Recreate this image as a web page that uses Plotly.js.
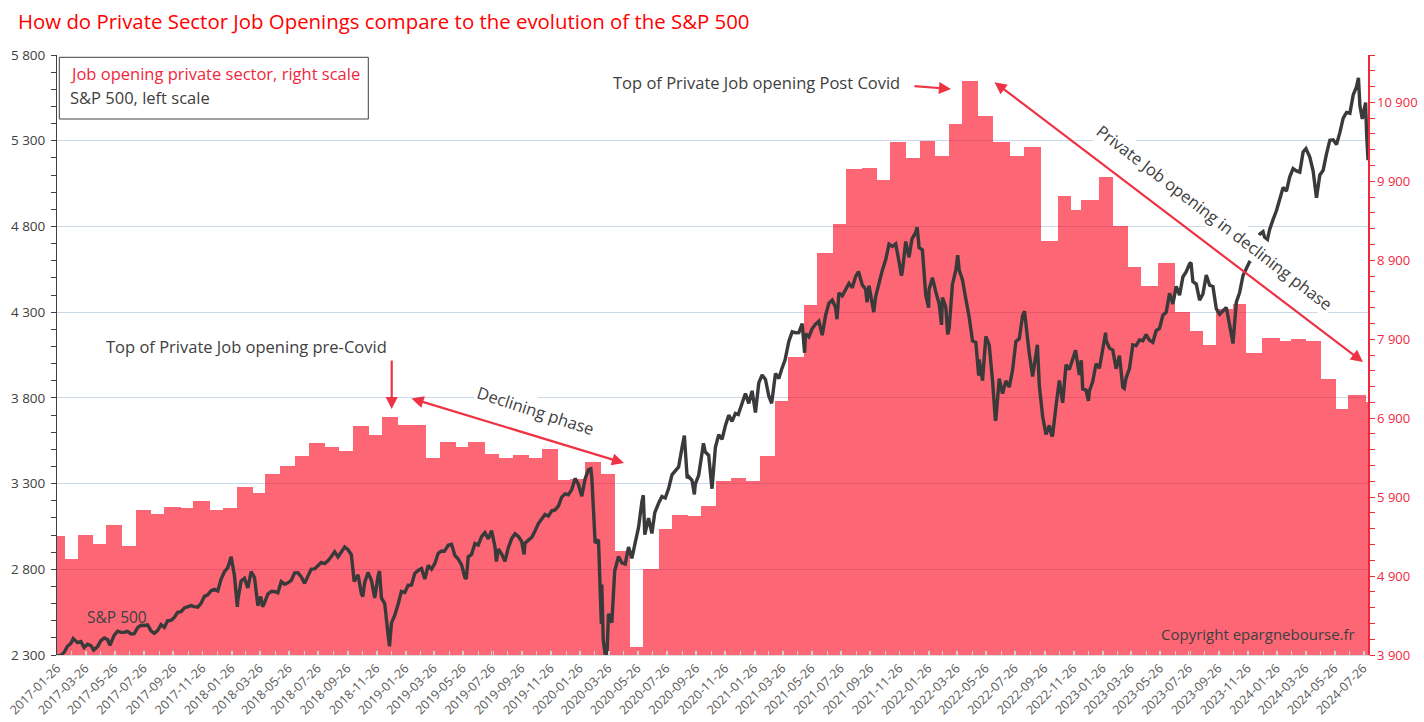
<!DOCTYPE html>
<html>
<head>
<meta charset="utf-8">
<script src="https://cdn.plot.ly/plotly-3.0.1.min.js"></script>
<style>html,body{margin:0;padding:0;background:#fff;}#chart{width:1424px;height:722px;}</style>
</head>
<body>
<div id="chart"></div>
<script>
// ---------- DATA ----------
// Private sector job openings (thousands, right scale), value in force from each date
const jobDates = [
 '2017-01-26','2017-02-12','2017-03-11','2017-04-11','2017-05-09','2017-06-11','2017-07-10','2017-08-10','2017-09-07','2017-10-12','2017-11-08','2017-12-13',
 '2018-01-08','2018-02-08','2018-03-12','2018-04-07','2018-05-09','2018-06-09','2018-07-09','2018-08-11','2018-09-10','2018-10-09','2018-11-10','2018-12-08',
 '2019-01-10','2019-02-12','2019-03-11','2019-04-08','2019-05-13','2019-06-07','2019-07-13','2019-08-11','2019-09-08','2019-10-13','2019-11-08','2019-12-12',
 '2020-01-07','2020-02-07','2020-03-11','2020-04-10','2020-05-12','2020-06-08','2020-07-10','2020-08-08','2020-09-09','2020-10-07','2020-11-07','2020-12-09',
 '2021-01-09','2021-02-08','2021-03-10','2021-04-08','2021-05-10','2021-06-08','2021-07-10','2021-08-07','2021-09-09','2021-10-11','2021-11-08','2021-12-11',
 '2022-01-08','2022-02-10','2022-03-10','2022-04-08','2022-05-11','2022-06-11','2022-07-17','2022-08-14','2022-09-20','2022-10-25','2022-11-22','2022-12-13',
 '2023-01-19','2023-02-18','2023-03-21','2023-04-17','2023-05-22','2023-06-28','2023-07-28','2023-08-25','2023-09-22','2023-10-27','2023-11-24','2023-12-26',
 '2024-02-02','2024-02-26','2024-03-29','2024-04-29','2024-05-30','2024-06-24','2024-07-31'
];
const jobValues = [
 5410,5120,5420,5310,5550,5280,5740,5690,5780,5760,5850,5740,
 5760,6030,5950,6190,6290,6420,6580,6540,6480,6800,6690,6910,
 6810,6810,6390,6600,6540,6600,6450,6400,6430,6390,6510,6120,
 6130,6340,6190,5220,4000,4990,5500,5670,5660,5790,6100,6140,
 6100,6420,7120,7670,8330,8990,9360,10050,10070,9920,10400,10200,
 10410,10220,10620,11170,10730,10400,10220,10340,9140,9720,9540,9660,
 9950,9340,8820,8570,8860,8240,8010,7830,8280,8340,7730,7920,
 7880,7900,7880,7400,7020,7190,7100
];

// S&P 500 (left scale)
const spDates = [
 '2017-01-26','2017-02-03','2017-02-10','2017-02-17','2017-02-24','2017-03-01','2017-03-10','2017-03-17','2017-03-24','2017-03-31','2017-04-07','2017-04-13','2017-04-21','2017-04-28',
 '2017-05-05','2017-05-12','2017-05-17','2017-05-26','2017-06-02','2017-06-09','2017-06-16','2017-06-23','2017-06-30','2017-07-07','2017-07-14','2017-07-21','2017-07-28',
 '2017-08-04','2017-08-11','2017-08-18','2017-08-25','2017-09-01','2017-09-08','2017-09-15','2017-09-22','2017-09-29','2017-10-06','2017-10-13','2017-10-20','2017-10-27',
 '2017-11-03','2017-11-10','2017-11-17','2017-11-24','2017-12-01','2017-12-08','2017-12-15','2017-12-22','2017-12-29',
 '2018-01-05','2018-01-12','2018-01-19','2018-01-26','2018-02-02','2018-02-08','2018-02-09','2018-02-16','2018-02-23','2018-03-02','2018-03-09','2018-03-16','2018-03-23','2018-03-29',
 '2018-04-02','2018-04-06','2018-04-13','2018-04-20','2018-04-27','2018-05-04','2018-05-11','2018-05-18','2018-05-25','2018-06-01','2018-06-08','2018-06-15','2018-06-22','2018-06-29',
 '2018-07-06','2018-07-13','2018-07-20','2018-07-27','2018-08-03','2018-08-10','2018-08-17','2018-08-24','2018-08-31','2018-09-07','2018-09-14','2018-09-21','2018-09-28',
 '2018-10-05','2018-10-11','2018-10-19','2018-10-26','2018-10-29','2018-11-02','2018-11-09','2018-11-16','2018-11-23','2018-11-30','2018-12-03','2018-12-07','2018-12-14','2018-12-21','2018-12-24','2018-12-28',
 '2019-01-04','2019-01-11','2019-01-18','2019-01-25','2019-02-01','2019-02-08','2019-02-15','2019-02-22','2019-03-01','2019-03-08','2019-03-15','2019-03-22','2019-03-29',
 '2019-04-05','2019-04-12','2019-04-18','2019-04-26','2019-05-03','2019-05-10','2019-05-17','2019-05-24','2019-05-31','2019-06-03','2019-06-07','2019-06-14','2019-06-21','2019-06-28',
 '2019-07-05','2019-07-12','2019-07-19','2019-07-26','2019-08-02','2019-08-05','2019-08-09','2019-08-16','2019-08-23','2019-08-30','2019-09-06','2019-09-13','2019-09-20','2019-09-27',
 '2019-10-02','2019-10-04','2019-10-11','2019-10-18','2019-10-25','2019-11-01','2019-11-08','2019-11-15','2019-11-22','2019-11-29','2019-12-06','2019-12-13','2019-12-20','2019-12-27',
 '2020-01-03','2020-01-10','2020-01-17','2020-01-24','2020-01-31','2020-02-07','2020-02-14','2020-02-19','2020-02-21','2020-02-28','2020-03-06','2020-03-12','2020-03-13','2020-03-16','2020-03-20','2020-03-23','2020-03-27',
 '2020-04-03','2020-04-09','2020-04-17','2020-04-24','2020-05-01','2020-05-08','2020-05-15','2020-05-22','2020-05-29','2020-06-05','2020-06-08','2020-06-11','2020-06-19','2020-06-26',
 '2020-07-02','2020-07-10','2020-07-17','2020-07-24','2020-07-31','2020-08-07','2020-08-14','2020-08-21','2020-08-28','2020-09-02','2020-09-08','2020-09-11','2020-09-18','2020-09-23','2020-09-25',
 '2020-10-02','2020-10-09','2020-10-12','2020-10-16','2020-10-23','2020-10-30','2020-11-06','2020-11-13','2020-11-20','2020-11-27','2020-12-04','2020-12-11','2020-12-18','2020-12-24','2020-12-31',
 '2021-01-08','2021-01-15','2021-01-22','2021-01-29','2021-02-05','2021-02-12','2021-02-19','2021-02-26','2021-03-04','2021-03-12','2021-03-19','2021-03-26','2021-04-01',
 '2021-04-09','2021-04-16','2021-04-23','2021-04-30','2021-05-07','2021-05-12','2021-05-14','2021-05-21','2021-05-28','2021-06-04','2021-06-11','2021-06-18','2021-06-25',
 '2021-07-02','2021-07-09','2021-07-16','2021-07-19','2021-07-23','2021-07-30','2021-08-06','2021-08-13','2021-08-20','2021-08-27','2021-09-02','2021-09-10','2021-09-17','2021-09-20','2021-09-24',
 '2021-10-01','2021-10-04','2021-10-08','2021-10-15','2021-10-22','2021-10-29','2021-11-05','2021-11-12','2021-11-19','2021-11-26','2021-12-01','2021-12-03','2021-12-10','2021-12-17','2021-12-23','2021-12-31',
 '2022-01-03','2022-01-07','2022-01-14','2022-01-21','2022-01-27','2022-01-28','2022-02-04','2022-02-11','2022-02-18','2022-02-23','2022-02-25','2022-03-04','2022-03-08','2022-03-11','2022-03-18','2022-03-25','2022-03-29',
 '2022-04-01','2022-04-08','2022-04-14','2022-04-22','2022-04-29','2022-05-06','2022-05-12','2022-05-13','2022-05-20','2022-05-27','2022-06-03','2022-06-10','2022-06-16','2022-06-17','2022-06-24',
 '2022-07-01','2022-07-08','2022-07-15','2022-07-22','2022-07-29','2022-08-05','2022-08-12','2022-08-16','2022-08-19','2022-08-26','2022-09-02','2022-09-09','2022-09-12','2022-09-16','2022-09-23','2022-09-30',
 '2022-10-07','2022-10-12','2022-10-14','2022-10-21','2022-10-28','2022-11-04','2022-11-11','2022-11-18','2022-11-25','2022-12-01','2022-12-09','2022-12-13','2022-12-16','2022-12-23','2022-12-28','2022-12-30',
 '2023-01-06','2023-01-13','2023-01-20','2023-01-27','2023-02-02','2023-02-03','2023-02-10','2023-02-17','2023-02-24','2023-03-03','2023-03-10','2023-03-13','2023-03-17','2023-03-24','2023-03-31',
 '2023-04-07','2023-04-14','2023-04-21','2023-04-28','2023-05-05','2023-05-12','2023-05-19','2023-05-26','2023-06-02','2023-06-09','2023-06-16','2023-06-23','2023-06-30',
 '2023-07-07','2023-07-14','2023-07-21','2023-07-28','2023-07-31','2023-08-04','2023-08-11','2023-08-18','2023-08-25','2023-09-01','2023-09-08','2023-09-15','2023-09-22','2023-09-29',
 '2023-10-06','2023-10-13','2023-10-20','2023-10-27','2023-11-03','2023-11-10','2023-11-17','2023-11-24','2023-12-01','2023-12-08','2023-12-15','2023-12-22','2023-12-29',
 '2024-01-05','2024-01-12','2024-01-19','2024-01-26','2024-02-02','2024-02-09','2024-02-16','2024-02-23','2024-03-01','2024-03-08','2024-03-15','2024-03-22','2024-03-28',
 '2024-04-05','2024-04-12','2024-04-19','2024-04-26','2024-05-03','2024-05-10','2024-05-17','2024-05-24','2024-05-31','2024-06-07','2024-06-14','2024-06-21','2024-06-28',
 '2024-07-05','2024-07-12','2024-07-16','2024-07-19','2024-07-24','2024-07-26','2024-07-31','2024-08-02','2024-08-05'
];
const spValues = [
 2296,2297,2316,2351,2367,2396,2372,2378,2344,2363,2355,2329,2349,2384,
 2399,2390,2357,2416,2439,2432,2433,2438,2423,2425,2459,2473,2472,
 2476,2441,2426,2443,2477,2461,2500,2502,2519,2549,2553,2575,2581,
 2588,2582,2579,2602,2642,2651,2675,2683,2674,
 2743,2786,2810,2873,2762,2581,2620,2732,2747,2691,2786,2752,2588,2641,
 2582,2604,2656,2670,2670,2663,2728,2713,2721,2735,2779,2780,2755,2718,
 2760,2801,2802,2819,2840,2833,2850,2875,2902,2872,2905,2930,2914,
 2885,2729,2768,2658,2641,2723,2781,2736,2633,2760,2790,2633,2600,2417,2351,2486,
 2532,2596,2671,2665,2707,2708,2776,2793,2804,2743,2822,2801,2834,
 2893,2907,2905,2940,2946,2881,2860,2826,2752,2744,2873,2887,2950,2942,
 2990,3014,2977,3026,2932,2845,2919,2889,2847,2926,2979,3007,2992,2962,
 2887,2952,2970,2986,3023,3067,3093,3120,3110,3141,3146,3169,3221,3240,
 3235,3265,3330,3295,3226,3328,3380,3386,3338,2954,2972,2481,2711,2386,2305,2237,2541,
 2489,2790,2875,2837,2831,2930,2864,2955,3044,3194,3232,3002,3098,3009,
 3130,3185,3225,3216,3271,3351,3373,3397,3508,3580,3332,3341,3319,3237,3298,
 3348,3477,3535,3484,3465,3270,3510,3585,3558,3638,3699,3663,3709,3703,3756,
 3825,3768,3841,3714,3887,3934,3907,3811,3768,3943,3913,3975,4020,
 4129,4185,4180,4181,4233,4063,4174,4156,4204,4230,4247,4166,4281,
 4352,4370,4327,4259,4412,4395,4437,4468,4442,4509,4537,4459,4433,4358,4455,
 4357,4300,4391,4471,4545,4605,4697,4683,4698,4595,4513,4538,4712,4620,4726,4766,
 4796,4677,4663,4398,4326,4432,4501,4419,4349,4226,4385,4329,4170,4204,4463,4543,4632,
 4546,4488,4392,4272,4132,4123,3930,4024,3901,4158,4109,3901,3667,3675,3912,
 3825,3899,3863,3962,4130,4145,4280,4305,4228,4058,3924,4067,4110,3873,3693,3586,
 3640,3577,3583,3752,3901,3771,3993,3965,4026,4077,3934,4019,3852,3845,3783,3840,
 3895,3999,3973,4071,4180,4136,4090,4079,3970,4046,3862,3855,3917,3971,4109,
 4105,4138,4133,4169,4136,4124,4192,4205,4282,4299,4410,4348,4450,
 4399,4505,4536,4582,4589,4478,4464,4370,4406,4516,4457,4450,4320,4288,
 4309,4327,4224,4117,4358,4415,4514,4559,4595,4604,4719,4755,4770,
 4697,4784,4840,4891,4959,5027,5006,5089,5137,5124,5117,5234,5254,
 5204,5123,4967,5100,5128,5223,5303,5305,5278,5347,5432,5465,5460,
 5567,5615,5667,5505,5427,5459,5522,5346,5186
];

// ---------- CHART ----------
const FONT = 'Open Sans, Noto Sans, sans-serif';
const RED = '#F0283C';
const ARROW = '#EE3344';
const TXT = '#404040';

const endDate = spDates[spDates.length - 1];
const jobWidths = jobDates.map((d, i) => {
  const next = i < jobDates.length - 1 ? jobDates[i + 1] : endDate;
  return Date.parse(next) - Date.parse(d);
});

const bars = {
  type: 'bar', x: jobDates, y: jobValues, width: jobWidths, offset: 0,
  xaxis: 'x', yaxis: 'y',
  marker: {color: 'rgba(251,0,25,0.6)', line: {width: 0}},
  hoverinfo: 'skip', name: 'Job opening private sector, right scale'
};
const sp = {
  type: 'scatter', mode: 'lines', x: spDates, y: spValues,
  xaxis: 'x', yaxis: 'y2',
  line: {color: '#3a3a3a', width: 3.4},
  hoverinfo: 'skip', name: 'S&P 500, left scale'
};

// pixel -> paper helpers (plot area 57..1368 x 55..655)
const PX = x => (x - 57) / 1311;
const PY = y => (655 - y) / 600;

function label(text, x, y, size, color, extra) {
  return Object.assign({text: text, x: PX(x), y: PY(y), xref: 'paper', yref: 'paper',
    xanchor: 'center', yanchor: 'middle', showarrow: false,
    font: {family: FONT, size: size, color: color}}, extra || {});
}
function arrow(hx, hy, tx, ty, both) {
  const a = {text: '', x: PX(hx), y: PY(hy), xref: 'paper', yref: 'paper', ax: tx - hx, ay: ty - hy,
    showarrow: true, arrowhead: 2, arrowsize: 1.1, arrowwidth: 2.2, arrowcolor: ARROW, standoff: 0};
  if (both) { a.arrowside = 'end+start'; a.startarrowhead = 2; a.startarrowsize = 1.1; a.startstandoff = 0; }
  return a;
}

const annotations = [
  label('Top of Private Job opening pre-Covid', 246, 346, 16.5, TXT),
  label('Top of Private Job opening Post Covid', 757, 82, 16.5, TXT),
  label('Declining phase', 536, 410, 16.5, TXT, {textangle: 18, bgcolor: '#ffffff'}),
  label('Private Job opening in declining phase', 1215, 217, 16.5, TXT, {textangle: 37.5, bgcolor: '#ffffff'}),
  label('S&P 500', 117, 617, 15.5, TXT),
  label('Copyright epargnebourse.fr', 1258, 634, 15, TXT),
  label('Job opening private sector, right scale', 68, 74, 16.5, RED, {xanchor: 'left'}),
  label('S&P 500, left scale', 68, 97.7, 16.5, TXT, {xanchor: 'left'}),
  arrow(391.7, 409, 391.7, 359, false),
  arrow(624, 463, 410, 398, true),
  arrow(951, 89, 913, 86, false),
  arrow(1363, 362, 993, 81, true)
];

const layout = {
  width: 1424, height: 722,
  margin: {l: 57, r: 56, t: 55, b: 67, pad: 0},
  paper_bgcolor: '#ffffff', plot_bgcolor: '#ffffff',
  showlegend: false,
  separators: '. ',
  bargap: 0,
  font: {family: FONT, color: TXT},
  title: {text: 'How do Private Sector Job Openings compare to the evolution of the S&P 500',
    xref: 'container', yref: 'container', x: 18 / 1424, xanchor: 'left', y: 1 - 22 / 722, yanchor: 'middle',
    font: {family: FONT, size: 20.4, color: '#FF0000'}},
  xaxis: {
    type: 'date', range: ['2017-01-26', endDate], tick0: '2017-01-26', dtick: 'M2', tickformat: '%Y-%m-%d',
    tickangle: -45, ticks: 'inside', ticklen: 4, tickcolor: '#d0d0d0',
    showline: true, linecolor: '#d9d9d9', linewidth: 1, showgrid: false, zeroline: false,
    tickfont: {family: FONT, size: 12.5, color: '#595959'},
    minor: {dtick: 'M1', tick0: '2017-01-26', ticks: 'inside', ticklen: 4, tickcolor: '#d0d0d0', showgrid: false}
  },
  yaxis: {
    side: 'right', range: [3900, 11500], tick0: 3900, dtick: 1000, tickformat: ',d',
    showgrid: false, zeroline: false, showline: true, linecolor: RED, linewidth: 1.5,
    ticks: 'outside', ticklen: 5, tickcolor: RED,
    tickfont: {family: FONT, size: 13, color: RED},
    minor: {dtick: 200, tick0: 3900, ticks: 'outside', ticklen: 5, tickcolor: RED}
  },
  yaxis2: {
    overlaying: 'y', side: 'left', range: [2300, 5800], tick0: 2300, dtick: 500, tickformat: ',d',
    showgrid: true, gridcolor: '#cbd8ec', gridwidth: 1, zeroline: false,
    showline: true, linecolor: '#404040', linewidth: 1,
    ticks: 'outside', ticklen: 5, tickcolor: '#404040', ticklabelstandoff: 3,
    tickfont: {family: FONT, size: 13.5, color: TXT},
    minor: {dtick: 100, tick0: 2300, ticks: 'outside', ticklen: 5, tickcolor: '#404040'}
  },
  shapes: [
    {type: 'rect', xref: 'paper', yref: 'paper', x0: PX(59.3), x1: PX(368.3), y0: PY(119), y1: PY(57.3),
     line: {color: '#404040', width: 1}, fillcolor: '#ffffff', layer: 'above'}
  ],
  annotations: annotations
};

Plotly.newPlot('chart', [bars, sp], layout, {displayModeBar: false, staticPlot: true});
</script>
</body>
</html>
